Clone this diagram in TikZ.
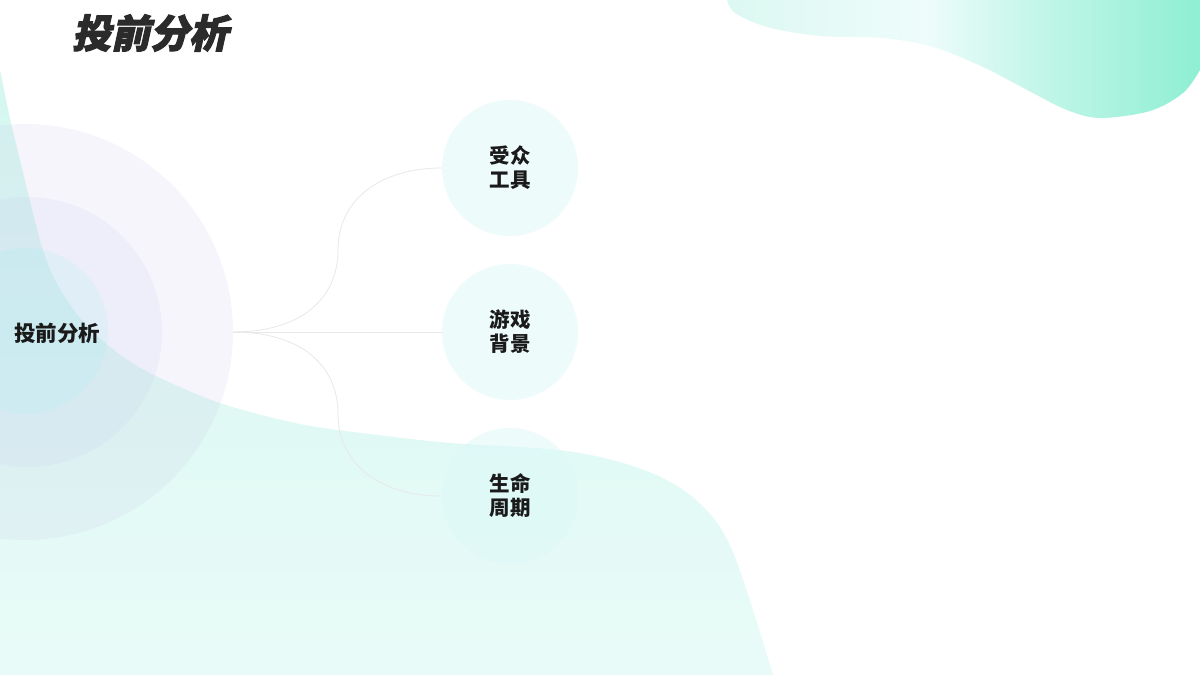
\documentclass[tikz,border=0pt]{standalone}
\usepackage{fontspec}
\newfontfamily\cjk{Noto Sans CJK SC}
\newfontfamily\titlecjk[FakeSlant=0.22,FakeBold=2.6]{Noto Sans CJK SC}
\definecolor{tbA}{HTML}{DCF8F2}
\definecolor{tbB}{HTML}{E6FAF6}
\definecolor{tbC}{HTML}{EEFCFB}
\definecolor{tbD}{HTML}{C6F6EA}
\definecolor{tbE}{HTML}{8EEFD2}
\definecolor{blA}{HTML}{D5F7F0}
\definecolor{blB}{HTML}{E9FBF8}
\definecolor{outerc}{HTML}{C8C8E8}
\definecolor{midc}{HTML}{C8D0F0}
\definecolor{innerc}{HTML}{A0F0F0}
\definecolor{leafc}{HTML}{DAF8F8}
\definecolor{connc}{HTML}{E8E8E8}
\definecolor{textc}{HTML}{1A1A1A}
\definecolor{titlec}{HTML}{2B2B2B}
\pgfdeclarehorizontalshading{trblob}{100bp}{color(0bp)=(tbA); color(25bp)=(tbA); color(36bp)=(tbB); color(46bp)=(tbC); color(57bp)=(tbD); color(75bp)=(tbE); color(100bp)=(tbE)}
\tikzset{
  ring/.style={circle, inner sep=0pt, draw=none, fill opacity=0.17},
  leaf/.style={circle, inner sep=0pt, minimum size=136pt, fill=leafc, fill opacity=0.45, text opacity=1, text=textc, align=center, font=\cjk\bfseries\fontsize{20.5}{24}\selectfont},
  conn/.style={draw=connc, line width=0.8pt},
}
\begin{document}
\begin{tikzpicture}[x=1pt, y=-1pt]
\useasboundingbox (0,0) rectangle (1200,675);
\fill[white] (0,0) rectangle (1200,675);
\begin{scope}
\clip (0,0) rectangle (1200,675);
% bottom-left blob
\path[top color=blA, bottom color=blB]
  (0,70) -- plot[smooth, tension=0.55] coordinates {(0,70) (11,123) (20,160) (28,193) (42,247) (56,282) (80,318) (110,347) (150,373) (220,403) (300,424) (370,434) (450,443) (567,451) (644,470) (696,500) (732,550) (773,675)}
  -- (0,675) -- cycle;
% top-right blob
\path[shading=trblob]
  (727,0) -- plot[smooth, tension=0.55] coordinates {(727,0) (735,13) (767,27) (820,36) (883,38) (933,47) (983,67) (1033,93) (1067,110) (1100,118) (1150,111) (1183,93) (1200,70)}
  -- (1200,0) -- cycle;
% central rings
\node[ring, minimum size=416pt, fill=outerc] (outer) at (25,332) {};
\node[ring, minimum size=270pt, fill=midc] (mid) at (27,332) {};
\node[ring, minimum size=166pt, fill=innerc] (inner) at (25,331) {};
\end{scope}
% title
\node[text=titlec, font=\titlecjk\bfseries\fontsize{39}{42}\selectfont] (title) at (150,33) {投前分析};
% central label
\node[text=textc, font=\cjk\bfseries\fontsize{21.5}{24}\selectfont] (ctext) at (57,333) {投前分析};
% leaves
\node[leaf] (n1) at (510,168) {受众\\工具};
\node[leaf] (n2) at (510,332) {游戏\\背景};
\node[leaf] (n3) at (510,496) {生命\\周期};
\coordinate (m1) at (338,250);
\coordinate (m3) at (338,414);
% connectors
\draw[conn] (outer.east) .. controls +(66,0) and +(0,50) .. (m1) .. controls +(0,-50) and +(-62,0) .. (n1.west);
\draw[conn] (outer.east) -- (n2.west);
\draw[conn] (outer.east) .. controls +(66,0) and +(0,-50) .. (m3) .. controls +(0,50) and +(-62,0) .. (n3.west);
\end{tikzpicture}
\end{document}
